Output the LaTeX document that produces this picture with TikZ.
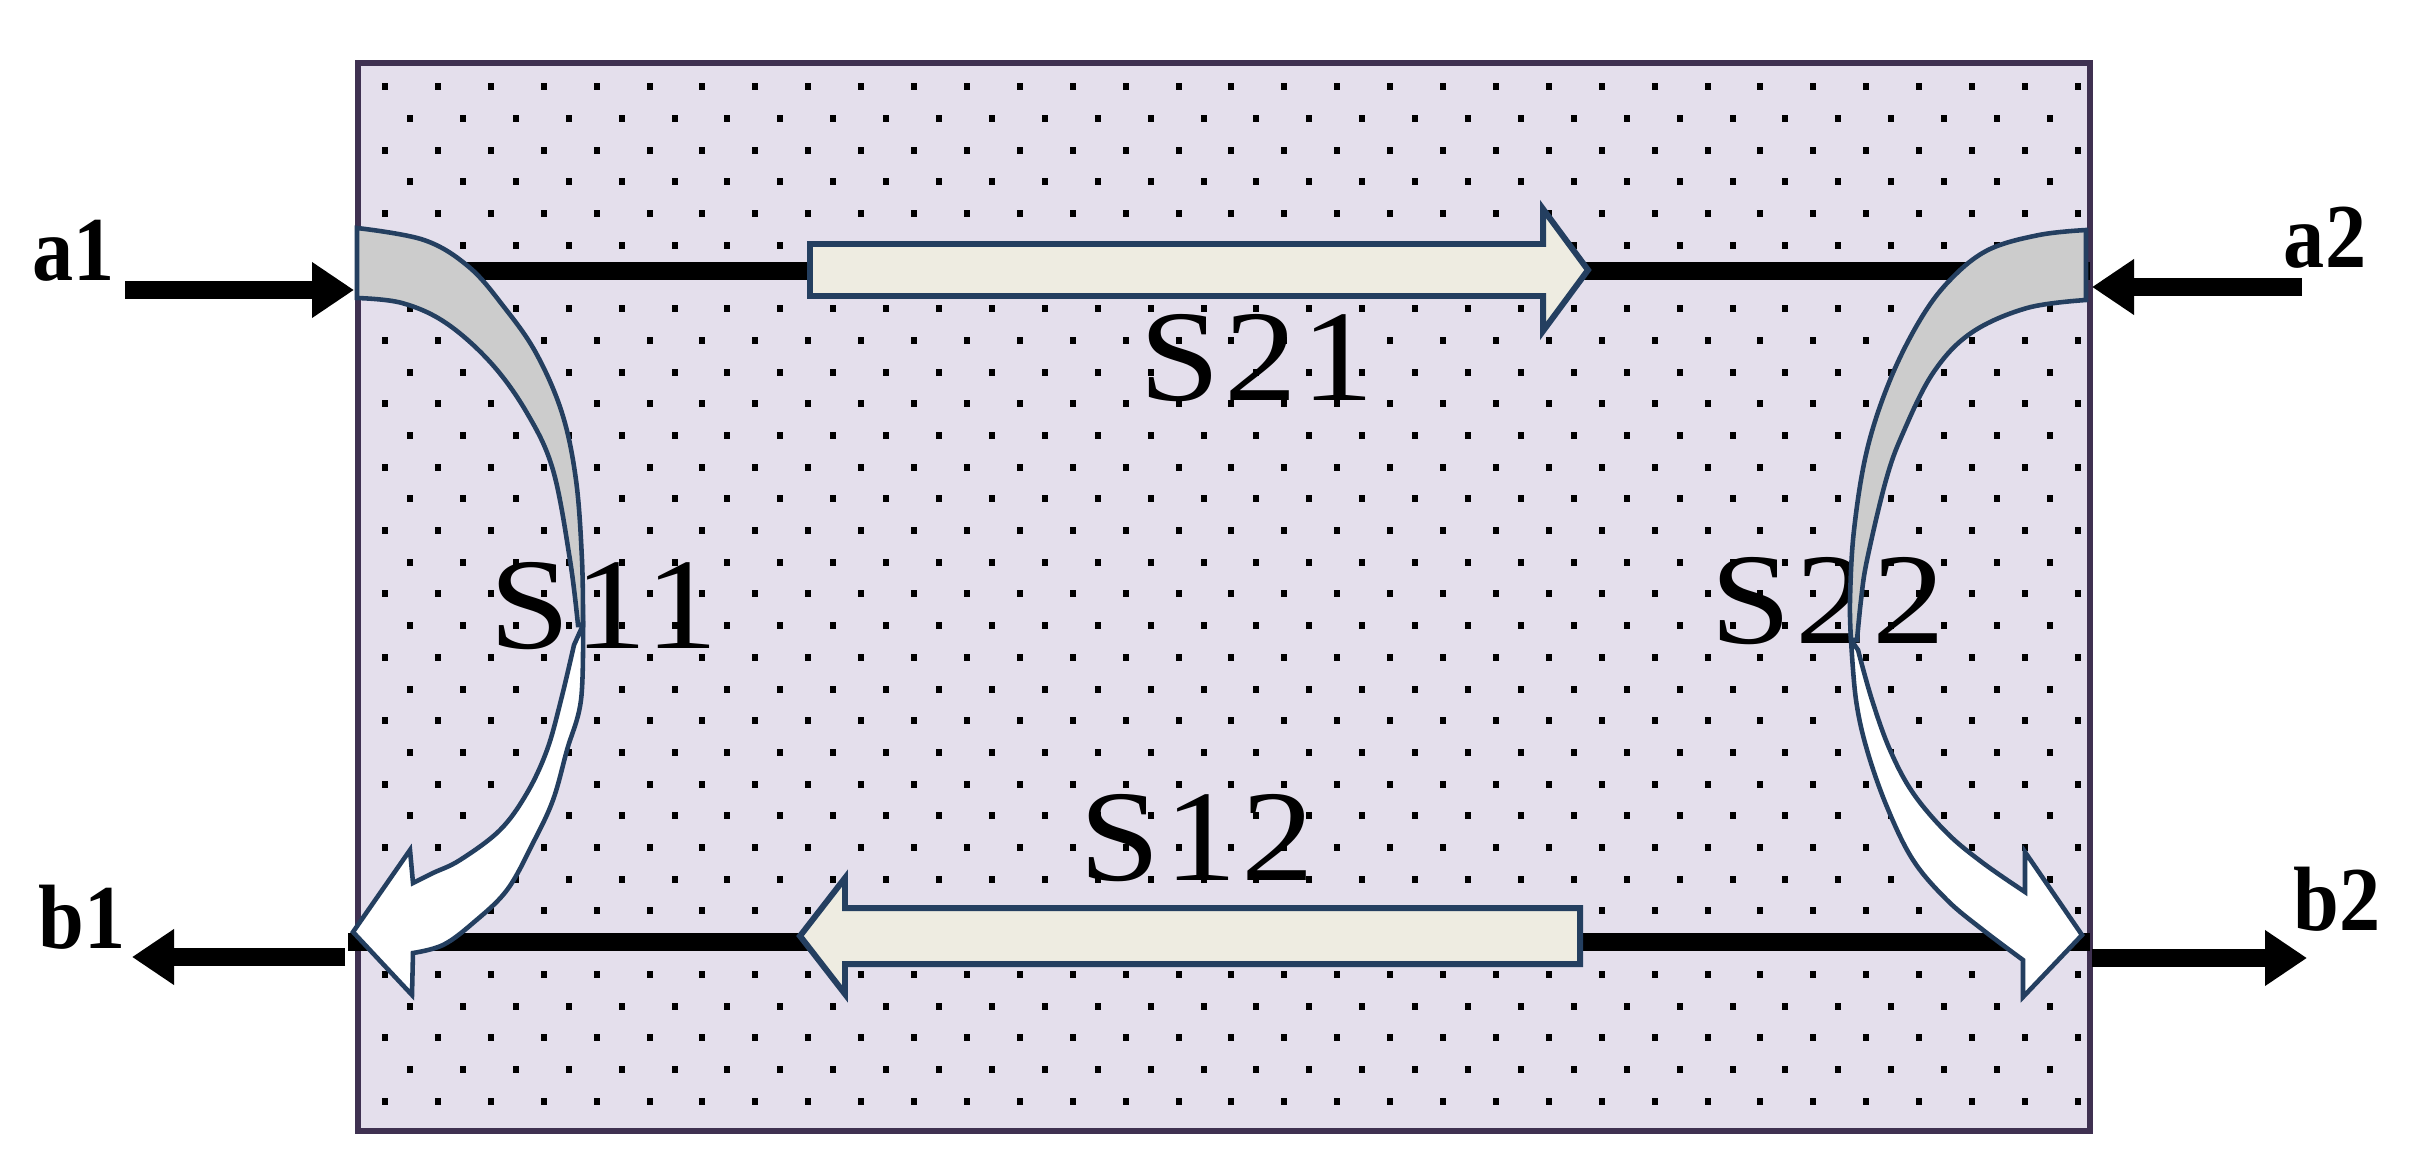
\documentclass[tikz,border=0pt]{standalone}
\usepackage{fontspec}
\setmainfont{Liberation Serif}
\newfontfamily\sparfont{Liberation Serif}[FakeStretch=1.12, LetterSpace=3]
\newfontfamily\portfont{Liberation Serif}[FakeStretch=0.9]
\usetikzlibrary{arrows.meta}
\definecolor{boxfill}{HTML}{E4DFEC}
\definecolor{boxline}{HTML}{3F3151}
\definecolor{shapeline}{HTML}{243F60}
\definecolor{flatfill}{HTML}{EEECE1}
\definecolor{backfill}{HTML}{CCCCCC}
\tikzstyle{twoport} = [fill=boxfill, draw=boxline, line width=1.7pt]
\tikzstyle{wire} = [line width=5.1pt]
\tikzstyle{flat} = [fill=flatfill, draw=shapeline, line width=1.7pt, line join=miter]
\tikzstyle{backside} = [fill=backfill, draw=shapeline, line width=1.3pt]
\tikzstyle{frontside} = [fill=white, draw=shapeline, line width=1.3pt, line join=miter]
\tikzstyle{port} = [line width=5.1pt, -{Triangle[length=4.2mm,width=5.3mm]}]
\tikzstyle{portlabel} = [font=\portfont\bfseries\fontsize{26}{26}\selectfont, anchor=base, inner sep=0pt]
\tikzstyle{sparam} = [font=\sparfont\fontsize{37}{37}\selectfont, anchor=base, inner sep=0pt]

\begin{document}
\begin{tikzpicture}[x=0.1mm, y=-0.1mm]
        \useasboundingbox (0,0) rectangle (2417,1168);

        % two-port box with dotted fill
        \draw[twoport] (358,63) rectangle (2090,1131);
        \foreach \r in {0,2,...,32}
            \foreach \c in {0,...,32}
                \fill ({382+52.9*\c},{83.2+31.7*\r}) rectangle ++(6,7);
        \foreach \r in {1,3,...,31}
            \foreach \c in {0,...,31}
                \fill ({407+52.9*\c},{83.2+31.7*\r}) rectangle ++(6,7);

        % through lines
        \coordinate (tl) at (358,271);
        \coordinate (tr) at (2090,271);
        \coordinate (bl) at (348,942);
        \coordinate (br) at (2090,942);
        \draw[wire] (tl) -- (tr);
        \draw[wire] (bl) -- (br);

        % S21 and S12
        \filldraw[flat] (810,244) -- (1543,244) -- (1543,209) -- (1588,270) -- (1543,331)
            -- (1543,296) -- (810,296) -- cycle;
        \filldraw[flat] (1580,908) -- (845,908) -- (845,878) -- (800,936) -- (845,994)
            -- (845,964) -- (1580,964) -- cycle;

        \node[sparam] (s21) at (1257,400) {S21};
        \node[sparam] (s12) at (1197,880) {S12};
        \node[sparam] (s11) at (604,648) {S11};
        \node[sparam] (s22) at (1828,643) {S22};

        % S11
        \filldraw[backside] plot[smooth, tension=0.6] coordinates {(357,228) (424,240) (469,267)
            (504,307) (536,353) (562,413) (576,480) (582,560) (583,625)}
            -- plot[smooth, tension=0.6] coordinates {(578,625) (570,560) (553,470) (527,413)
            (491,363) (446,323) (402,303) (357,298)} -- cycle;
        \filldraw[frontside] plot[smooth, tension=0.6] coordinates {(583,625) (581,700) (567,750)
            (553,800) (533,843) (507,890) (473,923) (443,945) (413,953)}
            -- (412,995) -- (353,932) -- (410,850) -- (413,883)
            -- plot[smooth, tension=0.6] coordinates {(413,883) (433,873) (460,860) (500,830)
            (527,793) (547,750) (561,700) (574,645)} -- cycle;

        % S22
        \filldraw[backside] plot[smooth, tension=0.6] coordinates {(2086,230) (2039,235) (1988,250)
            (1950,280) (1920,320) (1890,380) (1867,450) (1854,530) (1850,600) (1851,640)}
            -- plot[smooth, tension=0.6] coordinates {(1857,640) (1861,600) (1867,560) (1886,480)
            (1903,433) (1933,373) (1971,333) (2027,308) (2086,300)} -- cycle;
        \filldraw[frontside] plot[smooth, tension=0.6] coordinates {(1851,640) (1856,700) (1867,750)
            (1887,807) (1913,860) (1947,900) (1983,930) (2023,960)}
            -- (2023,997) -- (2082,935) -- (2025,852) -- (2025,892)
            -- plot[smooth, tension=0.6] coordinates {(2025,892) (1983,863) (1947,833) (1913,793)
            (1890,750) (1872,700) (1858,650)} -- cycle;

        % ports
        \node[portlabel] (a1) at (74,280) {a1};
        \node[portlabel] (a2) at (2325,267) {a2};
        \node[portlabel] (b1) at (82,948) {b1};
        \node[portlabel] (b2) at (2337,930) {b2};
        \coordinate (a1s) at (125,290);
        \coordinate (a1e) at (354,290);
        \coordinate (a2s) at (2302,287);
        \coordinate (a2e) at (2092,287);
        \coordinate (b1s) at (345,957);
        \coordinate (b1e) at (132,957);
        \coordinate (b2s) at (2092,958);
        \coordinate (b2e) at (2307,958);
        \draw[port] (a1s) -- (a1e);
        \draw[port] (a2s) -- (a2e);
        \draw[port] (b1s) -- (b1e);
        \draw[port] (b2s) -- (b2e);
\end{tikzpicture}
\end{document}
